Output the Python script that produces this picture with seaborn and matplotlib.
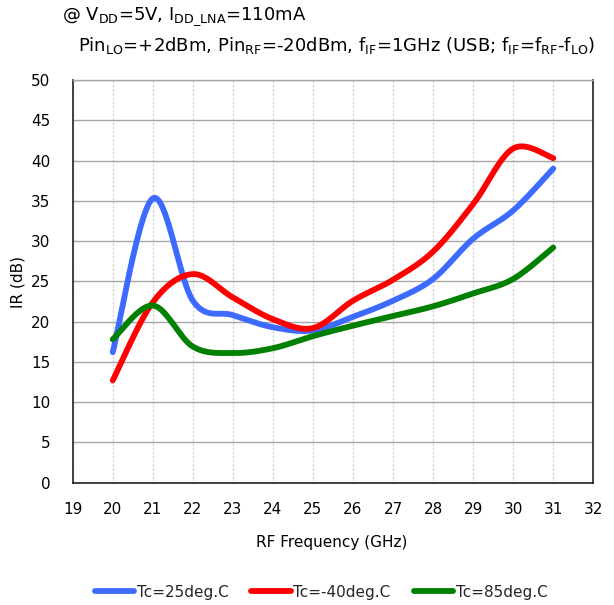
import numpy as np
import pandas as pd
import matplotlib
matplotlib.use("Agg")
import matplotlib.pyplot as plt
import seaborn as sns
from matplotlib.lines import Line2D

freq = [20, 21, 22, 23, 24, 25, 26, 27, 28, 29, 30, 31]
ir_25 = [16.2, 35.3, 22.6, 20.8, 19.3, 18.9, 20.6, 22.6, 25.3, 30.3, 33.8, 39.0]
ir_m40 = [12.7, 22.4, 25.9, 23.0, 20.3, 19.2, 22.6, 25.2, 28.7, 34.6, 41.5, 40.3]
ir_85 = [17.8, 22.0, 16.9, 16.1, 16.7, 18.2, 19.5, 20.7, 21.9, 23.5, 25.3, 29.2]
labels = ["Tc=25deg.C", "Tc=-40deg.C", "Tc=85deg.C"]
colors = ["#3D6BFF", "#FF0000", "#008000"]


def smooth(x, y, n=40):
    # Excel-style smoothed line (Catmull-Rom Bezier)
    x = np.asarray(x, float)
    y = np.asarray(y, float)
    P = np.column_stack([x, y])
    out = []
    for i in range(len(P) - 1):
        p0 = P[i - 1] if i > 0 else P[i]
        p1 = P[i]
        p2 = P[i + 1]
        p3 = P[i + 2] if i + 2 < len(P) else P[i + 1]
        c1 = p1 + (p2 - p0) / 6.0
        c2 = p2 - (p3 - p1) / 6.0
        t = np.linspace(0, 1, n, endpoint=(i == len(P) - 2))[:, None]
        b = ((1 - t) ** 3) * p1 + 3 * ((1 - t) ** 2) * t * c1 + 3 * (1 - t) * t ** 2 * c2 + t ** 3 * p2
        out.append(b)
    out = np.vstack(out)
    return out[:, 0], out[:, 1]


frames = []
for lab, ys in zip(labels, [ir_25, ir_m40, ir_85]):
    sx, sy = smooth(freq, ys)
    frames.append(pd.DataFrame({"freq": sx, "ir": sy, "series": lab}))
df = pd.concat(frames, ignore_index=True)

sns.set_theme(style="white")
plt.rcParams["font.family"] = ["DejaVu Sans"]

fig = plt.figure(figsize=(6.14, 6.05), dpi=100)
ax = fig.add_axes([72.7 / 614, (605 - 482.7) / 605, (593.3 - 72.7) / 614, (482.7 - 80) / 605])

sns.lineplot(data=df, x="freq", y="ir", hue="series", palette=colors, hue_order=labels,
             sort=False, estimator=None, linewidth=4.2, ax=ax, legend=False,
             solid_capstyle="round")

ax.set_xlim(19, 32)
ax.set_ylim(0, 50)
ax.set_xticks(range(19, 33))
ax.set_yticks(range(0, 51, 5))
ax.tick_params(axis="both", direction="in", length=5, width=1, color="black",
               labelsize=11, labelcolor="black")
ax.tick_params(axis="x", pad=14)
ax.tick_params(axis="y", pad=16)
ax.grid(axis="y", color="#A6A6A6", linewidth=1.0, linestyle="-")
ax.grid(axis="x", color="#D9D9D9", linewidth=1.0, linestyle=(0, (2, 1)))
ax.set_axisbelow(True)
for s in ["left", "bottom", "right"]:
    ax.spines[s].set_color("#222222")
    ax.spines[s].set_linewidth(1.2)
ax.spines["top"].set_color("#A6A6A6")
ax.spines["top"].set_linewidth(1.0)

ax.set_xlabel("RF Frequency (GHz)", fontsize=11, color="black")
ax.set_ylabel("IR (dB)", fontsize=11, color="black")
ax.xaxis.set_label_coords((332 - 72.7) / (593.3 - 72.7), -(543 - 482.7) / (482.7 - 80))
ax.yaxis.set_label_coords(-(72.7 - 18) / (593.3 - 72.7), (482.7 - 282) / (482.7 - 80))
ax.yaxis.label.set_va("center")
ax.xaxis.label.set_va("center")

fig.text(62 / 614, 1 - 17 / 605, r"@ V$_{\mathregular{DD}}$=5V, I$_{\mathregular{DD\_LNA}}$=110mA",
         fontsize=13, va="center", ha="left", color="black")
fig.text(78 / 614, 1 - 45 / 605,
         r"Pin$_{\mathregular{LO}}$=+2dBm, Pin$_{\mathregular{RF}}$=-20dBm, f$_{\mathregular{IF}}$=1GHz (USB; f$_{\mathregular{IF}}$=f$_{\mathregular{RF}}$-f$_{\mathregular{LO}}$)",
         fontsize=13, va="center", ha="left", color="black")

handles = [Line2D([0], [0], color=c, lw=4.2, solid_capstyle="round") for c in colors]
fig.legend(handles, labels, loc="center", bbox_to_anchor=(321 / 614, 1 - 592 / 605), ncol=3,
           frameon=False, fontsize=11, handlelength=2.6, handletextpad=0.15, columnspacing=1.5,
           borderpad=0)

fig.savefig("out.png", dpi=100)
